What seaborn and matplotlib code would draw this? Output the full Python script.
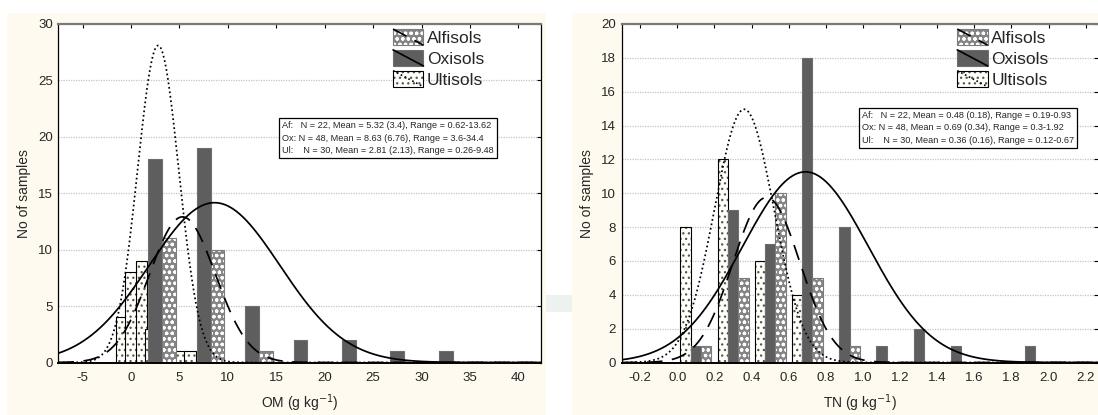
import numpy as np
import matplotlib
matplotlib.use("Agg")
import matplotlib.pyplot as plt
from matplotlib.patches import Rectangle
from matplotlib.lines import Line2D
from matplotlib.legend_handler import HandlerBase
import seaborn as sns

# ---------------- data ----------------
groups = ["Alfisols", "Oxisols", "Ultisols"]

# OM (g/kg): histogram counts, bin width 5
om_bin_width = 5.0
om_ox_centers = [2.5, 7.5, 12.5, 17.5, 22.5, 27.5, 32.5]
om_ox_counts = [18, 19, 5, 2, 2, 1, 1]
om_af_centers = [2.5, 7.5, 12.5]
om_af_counts = [11, 10, 1]
om_ul_x = [-1.0, 0.0, 1.1, 2.0, 5.0, 6.1]
om_ul_counts = [4, 8, 9, 3, 1, 1]

# TN (g/kg): histogram counts, bin width 0.2
tn_bin_width = 0.2
tn_ox_centers = [0.1, 0.3, 0.5, 0.7, 0.9, 1.1, 1.3, 1.5, 1.9]
tn_ox_counts = [1, 9, 7, 18, 8, 1, 2, 1, 1]
tn_af_centers = [0.1, 0.3, 0.5, 0.7, 0.9]
tn_af_counts = [1, 5, 10, 5, 1]
tn_ul_centers = [0.1, 0.3, 0.5, 0.7]
tn_ul_counts = [8, 12, 6, 4]

# summary statistics: N, mean, sd, range
om_stats = {"Af": (22, 5.32, 3.4, "0.62-13.62"),
            "Ox": (48, 8.63, 6.76, "3.6-34.4"),
            "Ul": (30, 2.81, 2.13, "0.26-9.48")}
tn_stats = {"Af": (22, 0.48, 0.18, "0.19-0.93"),
            "Ox": (48, 0.69, 0.34, "0.3-1.92"),
            "Ul": (30, 0.36, 0.16, "0.12-0.67")}

om_xticks = list(range(-5, 45, 5))
om_yticks = list(range(0, 35, 5))
tn_xticks = [-0.2, 0.0, 0.2, 0.4, 0.6, 0.8, 1.0, 1.2, 1.4, 1.6, 1.8, 2.0, 2.2]
tn_yticks = list(range(0, 22, 2))

# ---------------- style ----------------
sns.set_style("white")
plt.rcParams["font.family"] = ["Liberation Sans", "DejaVu Sans"]
plt.rcParams["hatch.linewidth"] = 0.9

OX_COLOR = "#5e5e5e"
AF_COLOR = "#858585"
UL_COLOR = "#fffef8"
CREAM = "#fffaef"

STYLE = {
    "Af": dict(fc=AF_COLOR, hc="white", hatch="ooo", ec="#7c7c7c", ls=(0, (9, 5.5))),
    "Ox": dict(fc=OX_COLOR, hc=OX_COLOR, hatch=None, ec="#6e6e6e", ls="-"),
    "Ul": dict(fc=UL_COLOR, hc="#555555", hatch="...", ec="black", ls=(0, (1, 1.6))),
}


def draw_bars(ax, x, h, width, key):
    s = STYLE[key]
    for xi, hi in zip(x, h):
        ax.bar(xi, hi, width=width, color=s["fc"], edgecolor=s["hc"],
               hatch=s["hatch"], linewidth=0, zorder=2)
        ax.bar(xi, hi, width=width, fill=False, edgecolor=s["ec"],
               linewidth=0.8, zorder=2)


def normal_curve(ax, stats, key, bw, xlim):
    n, mu, sd, _ = stats[key]
    xs = np.linspace(xlim[0], xlim[1], 600)
    ys = n * bw * np.exp(-0.5 * ((xs - mu) / sd) ** 2) / (sd * np.sqrt(2 * np.pi))
    sns.lineplot(x=xs, y=ys, ax=ax, color="black", linewidth=1.25,
                 linestyle=STYLE[key]["ls"], zorder=4)


class BoxWithLine(HandlerBase):
    def __init__(self, key):
        super().__init__()
        self.key = key

    def create_artists(self, legend, orig_handle, xdescent, ydescent,
                       width, height, fontsize, trans):
        s = STYLE[self.key]
        x0, y0 = -xdescent, -ydescent
        fill = Rectangle((x0, y0), width, height, facecolor=s["fc"],
                         edgecolor=s["hc"], hatch=s["hatch"], linewidth=0,
                         transform=trans)
        edge = Rectangle((x0, y0), width, height, fill=False,
                         edgecolor=s["ec"], linewidth=0.8, transform=trans)
        line = Line2D([x0, x0 + width], [y0 + height, y0], color="black",
                      linewidth=1.2, linestyle=s["ls"], transform=trans)
        return [fill, edge, line]


def style_axes(ax, xlim, ylim, xticks, yticks, xfmt, right_spine=True):
    ax.set_xlim(*xlim)
    ax.set_ylim(*ylim)
    ax.set_xticks(xticks)
    ax.set_xticklabels([xfmt(v) for v in xticks])
    ax.set_yticks(yticks)
    ax.set_facecolor("white")
    ax.yaxis.grid(True, color="#c4c4c4", linestyle=(0, (1, 1)), linewidth=0.9, zorder=0)
    ax.xaxis.grid(False)
    ax.set_axisbelow(True)
    ax.tick_params(axis="both", direction="in", length=3, width=0.8,
                   top=True, right=True, labelsize=9.5, color="black")
    ax.tick_params(axis="x", pad=7)
    ax.tick_params(axis="y", pad=4)
    for side in ["left", "bottom", "right"]:
        ax.spines[side].set_color("black")
        ax.spines[side].set_linewidth(0.9)
    ax.spines["bottom"].set_linewidth(1.4)
    ax.spines["top"].set_color("#7a7a7a")
    ax.spines["top"].set_linewidth(1.6)
    ax.spines["right"].set_visible(right_spine)
    ax.set_ylabel("No of samples", fontsize=10, labelpad=5)


def add_legend(ax, x_anchor):
    handles = [Rectangle((0, 0), 1, 1) for _ in groups]
    leg = ax.legend(handles, groups, loc="upper left",
                    bbox_to_anchor=(x_anchor, 0.985), frameon=False,
                    fontsize=12.5, handlelength=1.75, handleheight=1.05,
                    labelspacing=0.22, handletextpad=0.2, borderpad=0,
                    borderaxespad=0,
                    handler_map={h: BoxWithLine(k) for h, k in zip(handles, ["Af", "Ox", "Ul"])})
    leg.set_zorder(6)


def add_stats(ax, stats, x, y):
    n_af, m_af, s_af, r_af = stats["Af"]
    n_ox, m_ox, s_ox, r_ox = stats["Ox"]
    n_ul, m_ul, s_ul, r_ul = stats["Ul"]
    lines = [
        f"Af:   N = {n_af}, Mean = {m_af} ({s_af}), Range = {r_af}",
        f"Ox: N = {n_ox}, Mean = {m_ox} ({s_ox}), Range = {r_ox}",
        f"Ul:    N = {n_ul}, Mean = {m_ul} ({s_ul}), Range = {r_ul}",
    ]
    ax.text(x, y, "\n".join(lines), transform=ax.transAxes, ha="left", va="top",
            fontsize=6.6, linespacing=1.45, zorder=7,
            bbox=dict(boxstyle="square,pad=0.35", fc="white", ec="black", lw=0.9))


# ---------------- figure ----------------
fig = plt.figure(figsize=(10.98, 4.15), dpi=100)
fig.patch.set_facecolor("white")
fig.patches.append(Rectangle((0.0064, 0), 0.4909, 0.9687, transform=fig.transFigure,
                             facecolor=CREAM, edgecolor="none", zorder=-5))
fig.patches.append(Rectangle((0.5207, 0), 0.4793, 0.9687, transform=fig.transFigure,
                             facecolor=CREAM, edgecolor="none", zorder=-5))
fig.patches.append(Rectangle((0.4973, 0.2482), 0.0234, 0.041, transform=fig.transFigure,
                             facecolor="#eef2ef", edgecolor="none", zorder=-5))

ax1 = fig.add_axes([0.0531, 0.1265, 0.4393, 0.8157])
ax2 = fig.add_axes([0.5662, 0.1265, 0.4338, 0.8157])

# --- OM panel ---
om_xlim = (-7.5, 42.3)
om_bar_w = om_bin_width / 3.5
draw_bars(ax1, om_ul_x, om_ul_counts, 1.15, "Ul")
draw_bars(ax1, om_ox_centers, om_ox_counts, om_bar_w, "Ox")
draw_bars(ax1, np.array(om_af_centers) + om_bar_w, om_af_counts, om_bar_w, "Af")
for k in ["Ox", "Af", "Ul"]:
    normal_curve(ax1, om_stats, k, om_bin_width, om_xlim)
style_axes(ax1, om_xlim, (0, 30), om_xticks, om_yticks, lambda v: f"{v:d}")
ax1.set_xlabel("OM (g kg$^{-1}$)", fontsize=10, labelpad=6)
add_legend(ax1, 0.694)
add_stats(ax1, om_stats, 0.464, 0.712)

# --- TN panel ---
tn_xlim = (-0.3, 2.266)
tn_bar_w = tn_bin_width / 3.6
draw_bars(ax2, np.array(tn_ul_centers) - tn_bar_w, tn_ul_counts, tn_bar_w, "Ul")
draw_bars(ax2, tn_ox_centers, tn_ox_counts, tn_bar_w, "Ox")
draw_bars(ax2, np.array(tn_af_centers) + tn_bar_w, tn_af_counts, tn_bar_w, "Af")
for k in ["Ox", "Af", "Ul"]:
    normal_curve(ax2, tn_stats, k, tn_bin_width, tn_xlim)
style_axes(ax2, tn_xlim, (0, 20), tn_xticks, tn_yticks, lambda v: f"{v:.1f}",
           right_spine=False)
ax2.set_xlabel("TN (g kg$^{-1}$)", fontsize=10, labelpad=6)
add_legend(ax2, 0.7046)
add_stats(ax2, tn_stats, 0.504, 0.742)

fig.savefig("out.png", dpi=100, facecolor=fig.get_facecolor())
